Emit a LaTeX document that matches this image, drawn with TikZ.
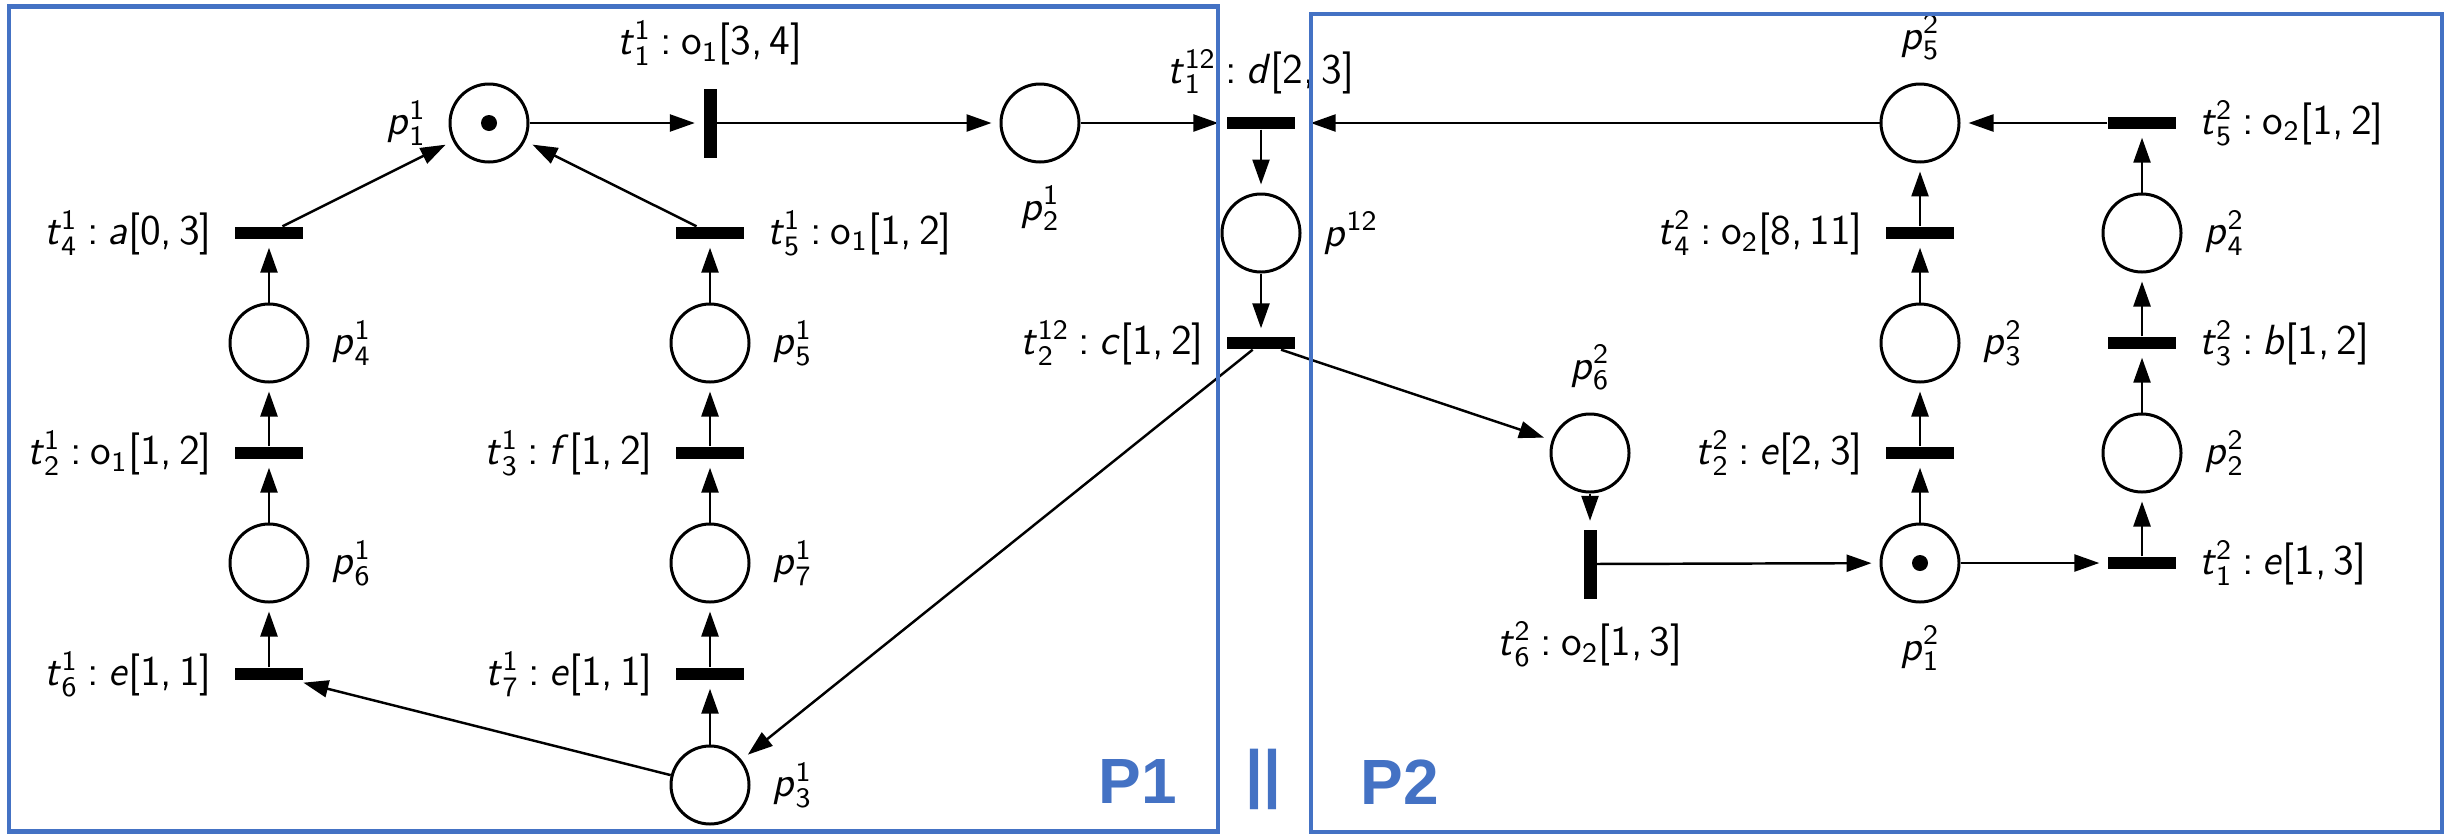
\documentclass[tikz,border=0pt]{standalone}
\usepackage{amsmath}
\usepackage{fontspec}
\newfontfamily\arialf{Liberation Sans}
\usetikzlibrary{arrows.meta}
\definecolor{pblue}{HTML}{4472C4}
% \vn{base}{sub}{sup}
\newcommand{\vn}[3]{\textit{#1}$^{\text{#3}}_{\text{#2}}$}
\newcommand{\sbs}[1]{$_{\text{#1}}$}
\newcommand{\cln}{\hspace{0.22em}:\hspace{0.22em}}
\begin{document}
\begin{tikzpicture}[
  font=\sffamily\fontsize{12}{14}\selectfont,
  place/.style={circle, draw, line width=0.85pt, minimum size=0.78cm, inner sep=0pt},
  hbar/.style={rectangle, fill=black, minimum width=0.68cm, minimum height=0.12cm, inner sep=0pt},
  vbar/.style={rectangle, fill=black, minimum width=0.13cm, minimum height=0.69cm, inner sep=0pt},
  arc/.style={-{Triangle[length=0.25cm,width=0.17cm]}, line width=0.7pt, shorten >=0.08cm},
  tok/.style={circle, fill=black, minimum size=0.16cm, inner sep=0pt},
  label distance=0.1cm,
  box/.style={draw=pblue, line width=1.4pt},
  big/.style={text=pblue, font=\arialf\bfseries\fontsize{18.2}{20}\selectfont, inner sep=0pt}
]
\useasboundingbox (0,0) rectangle (24.48,-8.34);
% ---------- P1 ----------
\node[place, label={left:{\vn{p}{1}{1}}}] (pa1) at (4.89,-1.23) {};
\node[tok] (ka1) at (pa1) {};
\node[vbar, label={above:{\vn{t}{1}{1}\cln o\sbs{1}[3,\,4]}}] (ta1) at (7.10,-1.23) {};
\node[place, label={below:{\vn{p}{2}{1}}}] (pa2) at (10.40,-1.23) {};
\node[hbar, label={left:{\vn{t}{4}{1}\cln\textit{a}[0,\,3]}}] (ta4) at (2.69,-2.33) {};
\node[hbar, label={right:{\vn{t}{5}{1}\cln o\sbs{1}[1,\,2]}}] (ta5) at (7.10,-2.33) {};
\node[place, label={right:{\vn{p}{4}{1}}}] (pa4) at (2.69,-3.43) {};
\node[place, label={right:{\vn{p}{5}{1}}}] (pa5) at (7.10,-3.43) {};
\node[hbar, label={left:{\vn{t}{2}{1}\cln o\sbs{1}[1,\,2]}}] (ta2) at (2.69,-4.53) {};
\node[hbar, label={left:{\vn{t}{3}{1}\cln\textit{f}[1,\,2]}}] (ta3) at (7.10,-4.53) {};
\node[place, label={right:{\vn{p}{6}{1}}}] (pa6) at (2.69,-5.63) {};
\node[place, label={right:{\vn{p}{7}{1}}}] (pa7) at (7.10,-5.63) {};
\node[hbar, label={left:{\vn{t}{6}{1}\cln\textit{e}[1,\,1]}}] (ta6) at (2.69,-6.74) {};
\node[hbar, label={left:{\vn{t}{7}{1}\cln\textit{e}[1,\,1]}}] (ta7) at (7.10,-6.74) {};
\node[place, label={right:{\vn{p}{3}{1}}}] (pa3) at (7.10,-7.85) {};
% ---------- shared ----------
\node[hbar, label={above:{\vn{t}{1}{12}\cln\textit{d}[2,\,3]}}] (tc1) at (12.61,-1.23) {};
\node[place, label={right:{\textit{p}$^{\text{12}}$}}] (pc) at (12.61,-2.33) {};
\node[hbar, label={left:{\vn{t}{2}{12}\cln\textit{c}[1,\,2]}}] (tc2) at (12.61,-3.43) {};
% ---------- P2 ----------
\node[place, label={above:{\vn{p}{5}{2}}}] (pb5) at (19.20,-1.23) {};
\node[hbar, label={right:{\vn{t}{5}{2}\cln o\sbs{2}[1,\,2]}}] (tb5) at (21.42,-1.23) {};
\node[hbar, label={left:{\vn{t}{4}{2}\cln o\sbs{2}[8,\,11]}}] (tb4) at (19.20,-2.33) {};
\node[place, label={right:{\vn{p}{4}{2}}}] (pb4) at (21.42,-2.33) {};
\node[place, label={right:{\vn{p}{3}{2}}}] (pb3) at (19.20,-3.43) {};
\node[hbar, label={right:{\vn{t}{3}{2}\cln\textit{b}[1,\,2]}}] (tb3) at (21.42,-3.43) {};
\node[place, label={above:{\vn{p}{6}{2}}}] (pb6) at (15.90,-4.53) {};
\node[hbar, label={left:{\vn{t}{2}{2}\cln\textit{e}[2,\,3]}}] (tb2) at (19.20,-4.53) {};
\node[place, label={right:{\vn{p}{2}{2}}}] (pb2) at (21.42,-4.53) {};
\node[vbar, label={below:{\vn{t}{6}{2}\cln o\sbs{2}[1,\,3]}}] (tb6) at (15.90,-5.64) {};
\node[place, label={below:{\vn{p}{1}{2}}}] (pb1) at (19.20,-5.63) {};
\node[tok] (kb1) at (pb1) {};
\node[hbar, label={right:{\vn{t}{1}{2}\cln\textit{e}[1,\,3]}}] (tb1) at (21.42,-5.63) {};
% ---------- arcs ----------
\draw[arc] (pa1) -- (ta1);
\draw[arc] (ta1) -- (pa2);
\draw[arc] (pa2) -- (tc1);
\draw[arc] (ta4) -- (pa1);
\draw[arc] (ta5) -- (pa1);
\draw[arc] (pa4) -- (ta4);
\draw[arc] (ta2) -- (pa4);
\draw[arc] (pa6) -- (ta2);
\draw[arc] (ta6) -- (pa6);
\draw[arc] (pa5) -- (ta5);
\draw[arc] (ta3) -- (pa5);
\draw[arc] (pa7) -- (ta3);
\draw[arc] (ta7) -- (pa7);
\draw[arc] (pa3) -- (ta7);
\draw[arc] (pa3) -- (ta6);
\draw[arc] (tc1) -- (pc);
\draw[arc] (pc) -- (tc2);
\draw[arc] (tc2) -- (pa3);
\draw[arc] (tc2) -- (pb6);
\draw[arc, shorten >=0.15cm] (pb5) -- (tc1);
\draw[arc] (tb5) -- (pb5);
\draw[arc] (pb4) -- (tb5);
\draw[arc] (tb3) -- (pb4);
\draw[arc] (pb2) -- (tb3);
\draw[arc] (tb1) -- (pb2);
\draw[arc] (pb1) -- (tb1);
\draw[arc] (tb6) -- (pb1);
\draw[arc] (pb6) -- (tb6);
\draw[arc] (pb1) -- (tb2);
\draw[arc] (tb2) -- (pb3);
\draw[arc] (pb3) -- (tb4);
\draw[arc] (tb4) -- (pb5);
% ---------- boxes ----------
\draw[box] (0.09,-0.065) rectangle (12.18,-8.315);
\draw[box] (13.11,-0.14) rectangle (24.42,-8.32);
\node[big] (l1) at (11.375,-7.81) {P1};
\node[big] (lpar) at (12.63,-7.795) {||};
\node[big] (l2) at (14.00,-7.82) {P2};
\end{tikzpicture}
\end{document}
